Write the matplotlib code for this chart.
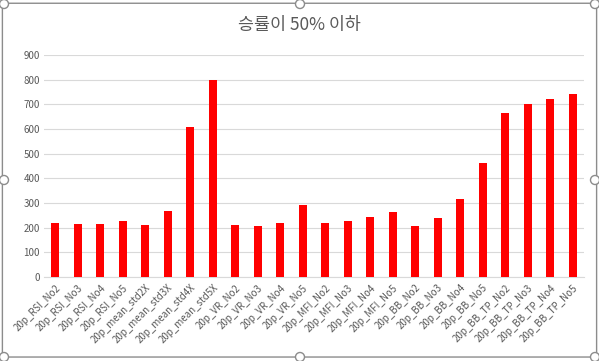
import numpy as np
import matplotlib
matplotlib.use('Agg')
import matplotlib.pyplot as plt
from matplotlib.patches import FancyBboxPatch, Ellipse

plt.rcParams['font.family'] = ['Noto Sans CJK KR', 'DejaVu Sans']

labels = ['20p_RSI_No2', '20p_RSI_No3', '20p_RSI_No4', '20p_RSI_No5',
          '20p_mean_std2X', '20p_mean_std3X', '20p_mean_std4X', '20p_mean_std5X',
          '20p_VR_No2', '20p_VR_No3', '20p_VR_No4', '20p_VR_No5',
          '20p_MFI_No2', '20p_MFI_No3', '20p_MFI_No4', '20p_MFI_No5',
          '20p_BB_No2', '20p_BB_No3', '20p_BB_No4', '20p_BB_No5',
          '20p_BB_TP_No2', '20p_BB_TP_No3', '20p_BB_TP_No4', '20p_BB_TP_No5']
values = [219, 216, 216, 227, 212, 266, 610, 797,
          212, 208, 219, 293, 219, 227, 243, 262,
          208, 239, 316, 462, 664, 701, 722, 742]
yticks = [0, 100, 200, 300, 400, 500, 600, 700, 800, 900]

grey = '#595959'
fig = plt.figure(figsize=(5.99, 3.61), dpi=100)
ax = fig.add_axes([0.0735, 0.2327, 0.9015, 0.6149])

x = np.arange(len(labels))
ax.bar(x, values, width=0.34, color='#FF0000', zorder=3)
ax.set_xlim(-0.5, len(labels) - 0.5)
ax.set_ylim(0, 900)
ax.set_yticks(yticks)
ax.set_xticks(x)
ax.set_xticklabels(labels, rotation=45, ha='right', rotation_mode='anchor')
ax.tick_params(length=0, labelsize=7, colors=grey, pad=3)
ax.tick_params(axis='x', pad=4)
ax.yaxis.grid(True, color='#d9d9d9', linewidth=0.8, zorder=0)
for s in ['top', 'right', 'left']:
    ax.spines[s].set_visible(False)
ax.spines['bottom'].set_color('#d9d9d9')
ax.spines['bottom'].set_linewidth(0.8)

fig.text(0.5, 0.93, '승률이 50% 이하', ha='center', va='center', fontsize=12.5, color=grey)

# chart frame with selection handles
frame = FancyBboxPatch((0.004, 0.011), 0.992, 0.98, boxstyle='round,pad=0,rounding_size=0.01',
                       transform=fig.transFigure, fill=False, edgecolor='#8c8c8c', linewidth=1)
fig.patches.append(frame)
W, H = 599, 361
r = 4.5
for px, py in [(4, 4), (300, 4), (595, 4), (4, 180), (595, 180), (4, 357), (300, 357), (595, 357)]:
    c = Ellipse((px / W, 1 - py / H), 2 * r / W, 2 * r / H, transform=fig.transFigure,
                facecolor='white', edgecolor='#8c8c8c', linewidth=1)
    fig.patches.append(c)

fig.savefig('out.png', dpi=100)
